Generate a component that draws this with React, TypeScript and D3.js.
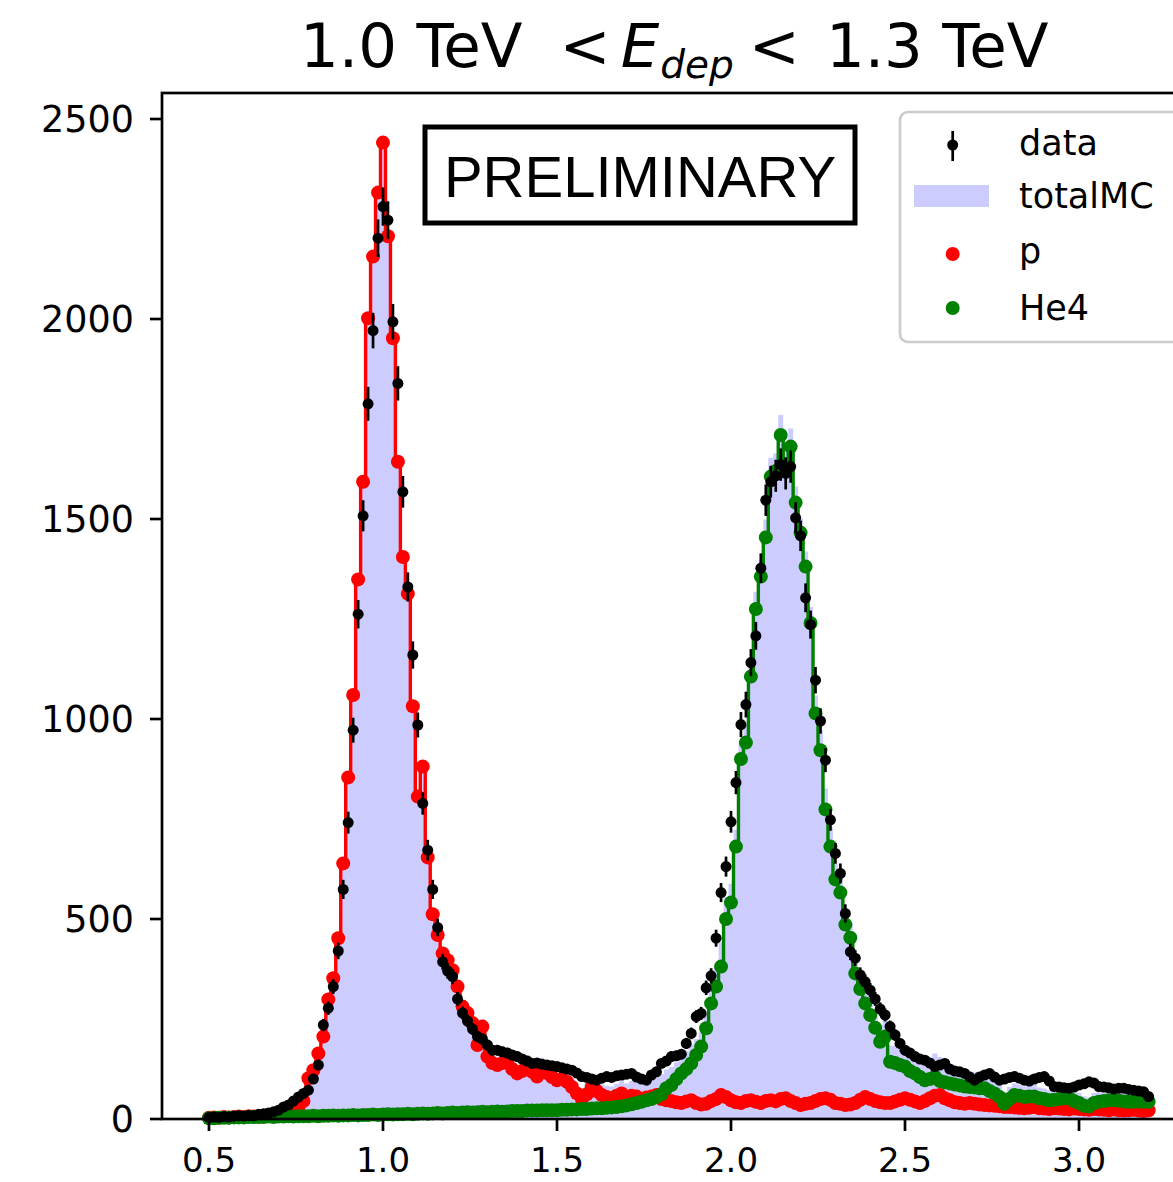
import React from 'react';
import * as d3 from 'd3';

// ---- histogram binning (bin centres from 0.5 to 3.2) ----
const X_FIRST = 0.5;
const X_LAST = 3.2;
const N_BINS = 190;

// ---- series (counts per bin) ----
const dataCounts: number[] = [
  4, 5, 4, 6, 5, 7, 8, 7, 9, 8,
  12, 13, 15, 18, 22, 30, 35, 45, 55, 64,
  72, 100, 135, 235, 277, 331, 420, 574, 741, 972,
  1262, 1508, 1788, 1971, 2202, 2281, 2247, 1993, 1839, 1568,
  1330, 1160, 985, 789, 672, 574, 479, 393, 370, 356,
  300, 265, 245, 225, 206, 200, 185, 172, 172, 168,
  165, 160, 156, 150, 145, 139, 140, 137, 135, 133,
  131, 128, 125, 122, 115, 106, 104, 100, 97, 102,
  106, 104, 108, 110, 112, 114, 105, 100, 97, 110,
  118, 139, 145, 156, 158, 162, 189, 214, 256, 264,
  328, 358, 452, 566, 631, 743, 841, 986, 1036, 1141,
  1208, 1377, 1547, 1593, 1608, 1636, 1614, 1631, 1503, 1458,
  1303, 1236, 1097, 995, 897, 748, 664, 614, 514, 418,
  402, 360, 343, 322, 300, 275, 260, 231, 210, 189,
  172, 165, 156, 150, 147, 140, 131, 135, 139, 125,
  120, 118, 114, 105, 97, 105, 110, 114, 105, 97,
  100, 104, 106, 102, 97, 95, 100, 104, 106, 95,
  81, 80, 78, 77, 80, 85, 88, 93, 90, 81,
  80, 78, 75, 77, 77, 74, 72, 70, 68, 56,
];

const pCounts: number[] = [
  3, 4, 3, 5, 4, 5, 6, 5, 7, 6,
  6, 7, 8, 10, 14, 20, 25, 27, 30, 45,
  102, 122, 164, 206, 299, 352, 452, 639, 854, 1060,
  1349, 1593, 2002, 2156, 2316, 2441, 2207, 1952, 1643, 1405,
  1313, 1032, 806, 881, 654, 512, 460, 414, 397, 372,
  331, 281, 265, 240, 185, 231, 156, 140, 135, 140,
  147, 125, 114, 120, 139, 118, 106, 131, 115, 105,
  97, 100, 93, 80, 64, 50, 62, 81, 70, 60,
  55, 52, 58, 64, 55, 58, 56, 50, 54, 56,
  60, 50, 47, 45, 42, 40, 44, 47, 40, 36,
  38, 45, 50, 60, 55, 47, 42, 40, 45, 47,
  43, 40, 45, 47, 44, 50, 52, 45, 40, 35,
  38, 40, 45, 50, 52, 48, 40, 38, 35, 36,
  40, 48, 55, 50, 45, 42, 40, 40, 44, 48,
  52, 48, 44, 40, 45, 52, 58, 60, 52, 47,
  42, 40, 38, 40, 38, 36, 35, 34, 33, 32,
  30, 30, 29, 28, 27, 28, 30, 27, 26, 25,
  27, 26, 25, 24, 26, 25, 24, 23, 25, 24,
  23, 22, 24, 22, 21, 22, 23, 21, 20, 22,
];

const he4Counts: number[] = [
  2, 2, 3, 3, 3, 4, 4, 4, 5, 5,
  5, 5, 6, 5, 6, 6, 7, 6, 7, 7,
  7, 8, 7, 8, 8, 9, 8, 9, 9, 10,
  9, 10, 10, 11, 10, 11, 12, 11, 12, 12,
  13, 12, 13, 14, 13, 14, 15, 14, 15, 16,
  15, 16, 17, 16, 17, 18, 17, 18, 19, 18,
  19, 20, 20, 20, 21, 21, 21, 22, 22, 22,
  22, 23, 23, 24, 24, 25, 25, 26, 27, 27,
  28, 29, 30, 32, 34, 37, 40, 43, 47, 50,
  55, 62, 77, 85, 100, 114, 125, 139, 160, 181,
  227, 289, 331, 381, 500, 541, 681, 900, 941, 1106,
  1275, 1356, 1454, 1606, 1620, 1710, 1622, 1681, 1541, 1466,
  1381, 1240, 1014, 922, 774, 681, 599, 566, 486, 453,
  364, 325, 289, 260, 228, 193, 206, 143, 140, 135,
  131, 120, 114, 105, 97, 100, 106, 95, 92, 89,
  86, 84, 81, 80, 79, 77, 77, 70, 64, 55,
  38, 50, 60, 58, 55, 56, 56, 52, 50, 47,
  48, 50, 52, 52, 45, 40, 33, 31, 40, 43,
  45, 47, 47, 46, 44, 43, 43, 44, 43, 43,
];

const xTicks = [0.5, 1.0, 1.5, 2.0, 2.5, 3.0];
const yTicks = [0, 500, 1000, 1500, 2000, 2500];
const legendLabels = ['data', 'totalMC', 'p', 'He4'];
const stampText = 'PRELIMINARY';

// ---- layout ----
const W = 1173;
const H = 1182;
const AX_LEFT = 162;
const AX_RIGHT = 1195.6;
const AX_TOP = 93;
const AX_BOTTOM = 1119;
const FONT = 'DejaVu Sans';

const binX = d3.range(N_BINS).map((i) => X_FIRST + (i * (X_LAST - X_FIRST)) / (N_BINS - 1));

type Row = { x: number; data: number; p: number; he4: number; mc: number };
const rows: Row[] = binX.map((x, i) => ({
  x,
  data: dataCounts[i],
  p: pCounts[i],
  he4: he4Counts[i],
  mc: pCounts[i] + he4Counts[i],
}));

export default function App() {
  const xScale = d3.scaleLinear().domain([0.365, 3.335]).range([AX_LEFT, AX_RIGHT]);
  const yScale = d3.scaleLinear().domain([0, 2565]).range([AX_BOTTOM, AX_TOP]);

  const area = d3
    .area<Row>()
    .x((d) => xScale(d.x))
    .y0(yScale(0))
    .y1((d) => yScale(d.mc))
    .curve(d3.curveStep);

  const pLine = d3
    .line<Row>()
    .x((d) => xScale(d.x))
    .y((d) => yScale(d.p))
    .curve(d3.curveStep);
  const heLine = d3
    .line<Row>()
    .x((d) => xScale(d.x))
    .y((d) => yScale(d.he4))
    .curve(d3.curveStep);

  const RED = '#ff0000';
  const GREEN = '#008000';
  const FILL = '#ccccff';
  const MR = 7;

  return (
    <svg
      width={W}
      height={H}
      style={{ position: 'absolute', left: 0, top: 0, background: '#fff' }}
      xmlns="http://www.w3.org/2000/svg"
    >
      <rect x={0} y={0} width={W} height={H} fill="#fff" />
      {/* title */}
      <text x={300} y={67} fontFamily={FONT} fontSize={61} fill="#000">
        <tspan>1.0 TeV</tspan>
        <tspan dx={37}>&lt;</tspan>
        <tspan dx={10} fontStyle="italic">E</tspan>
        <tspan dx={1} dy={11} fontStyle="italic" fontSize={39}>dep</tspan>
        <tspan dx={15} dy={-11}>&lt;</tspan>
        <tspan dx={26}>1.3 TeV</tspan>
      </text>

      {/* totalMC */}
      <path d={area(rows) || ''} fill={FILL} stroke="none" />

      {/* p and He4 */}
      <path d={pLine(rows) || ''} fill="none" stroke={RED} strokeWidth={3.4} />
      <path d={heLine(rows) || ''} fill="none" stroke={GREEN} strokeWidth={3.4} />
      {rows.map((d, i) => (
        <circle key={'p' + i} cx={xScale(d.x)} cy={yScale(d.p)} r={MR} fill={RED} />
      ))}
      {rows.map((d, i) => (
        <circle key={'h' + i} cx={xScale(d.x)} cy={yScale(d.he4)} r={MR} fill={GREEN} />
      ))}

      {/* data */}
      {rows.map((d, i) => {
        const e = Math.sqrt(d.data);
        return (
          <g key={'d' + i}>
            <line
              x1={xScale(d.x)}
              x2={xScale(d.x)}
              y1={yScale(d.data - e)}
              y2={yScale(d.data + e)}
              stroke="#000"
              strokeWidth={2.7}
            />
            <circle cx={xScale(d.x)} cy={yScale(d.data)} r={5.5} fill="#000" />
          </g>
        );
      })}

      {/* spines */}
      <rect
        x={AX_LEFT}
        y={AX_TOP}
        width={AX_RIGHT - AX_LEFT}
        height={AX_BOTTOM - AX_TOP}
        fill="none"
        stroke="#000"
        strokeWidth={2.7}
      />

      {/* x ticks */}
      {xTicks.map((t) => (
        <g key={'xt' + t}>
          <line x1={xScale(t)} x2={xScale(t)} y1={AX_BOTTOM} y2={AX_BOTTOM + 12} stroke="#000" strokeWidth={2.7} />
          <text x={xScale(t)} y={1172} textAnchor="middle" fontFamily={FONT} fontSize={34} fill="#000">
            {t.toFixed(1)}
          </text>
        </g>
      ))}
      {/* y ticks */}
      {yTicks.map((t) => (
        <g key={'yt' + t}>
          <line x1={AX_LEFT - 12} x2={AX_LEFT} y1={yScale(t)} y2={yScale(t)} stroke="#000" strokeWidth={2.7} />
          <text x={134} y={yScale(t) + 12.5} textAnchor="end" fontFamily={FONT} fontSize={36.5} fill="#000">
            {String(t)}
          </text>
        </g>
      ))}

      {/* PRELIMINARY stamp */}
      <rect x={425} y={127} width={430} height={96} fill="#fff" stroke="#000" strokeWidth={5} />
      <text x={640} y={197} textAnchor="middle" fontFamily="Liberation Sans, Arial" fontSize={58} fill="#000">
        {stampText}
      </text>

      {/* legend */}
      <rect x={900} y={112} width={282} height={230} rx={8} fill="#fff" fillOpacity={0.8} stroke="#cccccc" strokeWidth={2.7} />
      <line x1={952.7} x2={952.7} y1={131} y2={161} stroke="#000" strokeWidth={2.7} />
      <circle cx={952.7} cy={145} r={5.5} fill="#000" />
      <rect x={914} y={185} width={75} height={22} fill={FILL} />
      <circle cx={952.7} cy={254} r={MR} fill={RED} />
      <circle cx={952.7} cy={308} r={MR} fill={GREEN} />
      {legendLabels.map((l, i) => (
        <text key={l} x={1019} y={[155, 208, 263, 320][i]} fontFamily={FONT} fontSize={35} fill="#000">
          {l}
        </text>
      ))}
    </svg>
  );
}
